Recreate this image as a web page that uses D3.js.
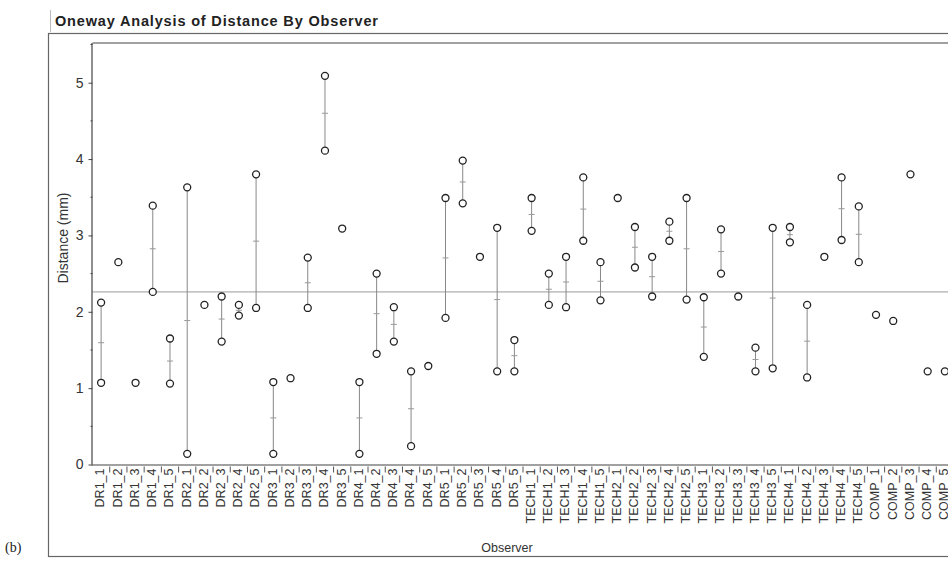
<!DOCTYPE html>
<html>
<head>
<meta charset="utf-8">
<script src="https://cdn.jsdelivr.net/npm/d3@7"></script>
<style>
  html, body { margin: 0; padding: 0; background: #fff; }
  svg { display: block; }
</style>
</head>
<body>
<svg id="chart" width="948" height="565"></svg>
<script>
// ---------------- data ----------------
const observers = [
  "DR1_1","DR1_2","DR1_3","DR1_4","DR1_5",
  "DR2_1","DR2_2","DR2_3","DR2_4","DR2_5",
  "DR3_1","DR3_2","DR3_3","DR3_4","DR3_5",
  "DR4_1","DR4_2","DR4_3","DR4_4","DR4_5",
  "DR5_1","DR5_2","DR5_3","DR5_4","DR5_5",
  "TECH1_1","TECH1_2","TECH1_3","TECH1_4","TECH1_5",
  "TECH2_1","TECH2_2","TECH2_3","TECH2_4","TECH2_5",
  "TECH3_1","TECH3_2","TECH3_3","TECH3_4","TECH3_5",
  "TECH4_1","TECH4_2","TECH4_3","TECH4_4","TECH4_5",
  "COMP_1","COMP_2","COMP_3","COMP_4","COMP_5"
];
// first measurement per observer (mm)
const measurement1 = [
  2.12,2.65,1.07,3.39,1.65,
  3.63,2.09,2.20,2.09,3.80,
  1.08,1.13,2.71,5.09,3.09,
  1.08,2.50,2.06,1.22,1.29,
  3.49,3.98,2.72,3.10,1.63,
  3.49,2.50,2.72,3.76,2.65,
  3.49,3.11,2.72,3.18,3.49,
  2.19,3.08,2.20,1.53,3.10,
  3.11,2.09,2.72,3.76,3.38,
  1.96,1.88,3.80,1.22,1.22
];
// second measurement per observer (null = only one value)
const measurement2 = [
  1.07,null,null,2.26,1.06,
  0.14,null,1.61,1.95,2.05,
  0.14,null,2.05,4.11,null,
  0.14,1.45,1.61,0.24,null,
  1.92,3.42,null,1.22,1.22,
  3.06,2.09,2.06,2.93,2.15,
  null,2.58,2.20,2.93,2.16,
  1.41,2.50,null,1.22,1.26,
  2.91,1.14,null,2.94,2.65,
  null,null,null,null,null
];
const grandMean = 2.26;
const yTicks = [0,1,2,3,4,5];
const yMinorTicks = [0.5,1.5,2.5,3.5,4.5,5.5];
const chartTitle = "Oneway Analysis of Distance By Observer";
const yTitle = "Distance (mm)";
const xTitle = "Observer";
const panelLabel = "(b)";

// ---------------- layout ----------------
const svg = d3.select("#chart");
const plot = { left: 92.5, top: 43, bottom: 464.5, right: 953.5 };
const font = "'Liberation Sans', Arial, sans-serif";

const x = d3.scaleBand().domain(observers).range([plot.left, plot.right]).padding(0);
const y = d3.scaleLinear().domain([0, 5.52]).range([plot.bottom, plot.top]);

// panel label
svg.append("text").attr("x", 5).attr("y", 552)
  .attr("font-family", "'Liberation Serif', 'Times New Roman', serif")
  .attr("font-size", 14).attr("fill", "#222").text(panelLabel);

// title and outline marker
svg.append("line").attr("x1", 50.5).attr("x2", 50.5).attr("y1", 10).attr("y2", 32)
  .attr("stroke", "#bbb").attr("stroke-width", 1);
svg.append("text").attr("x", 55).attr("y", 26)
  .attr("font-family", font).attr("font-weight", "bold")
  .attr("font-size", 14.5).attr("fill", "#222")
  .attr("textLength", 323).attr("lengthAdjust", "spacing")
  .text(chartTitle);

// outer report box
svg.append("rect").attr("x", 48.5).attr("y", 33.5).attr("width", 960).attr("height", 523)
  .attr("fill", "none").attr("stroke", "#666").attr("stroke-width", 1.2);

// plot frame top
svg.append("line").attr("x1", plot.left).attr("x2", 960).attr("y1", plot.top).attr("y2", plot.top)
  .attr("stroke", "#444").attr("stroke-width", 1.2);

// grand mean line
svg.append("line").attr("x1", plot.left).attr("x2", 960)
  .attr("y1", y(grandMean)).attr("y2", y(grandMean))
  .attr("stroke", "#999").attr("stroke-width", 1);

// y axis
const yAxis = d3.axisLeft(y).tickValues(yTicks).tickSize(4).tickPadding(5).tickFormat(d3.format("d"));
const gy = svg.append("g").attr("transform", `translate(${plot.left},0)`).call(yAxis);
gy.select(".domain").attr("stroke", "#444").attr("stroke-width", 1.2)
  .attr("d", `M-0.5,${plot.top}V${plot.bottom}`);
gy.selectAll(".tick line").attr("stroke", "#444");
gy.selectAll(".tick text").attr("font-family", font).attr("font-size", 14).attr("fill", "#333");
svg.append("g").selectAll("line").data(yMinorTicks).join("line")
  .attr("x1", plot.left - 2).attr("x2", plot.left)
  .attr("y1", d => y(d)).attr("y2", d => y(d))
  .attr("stroke", "#444");

// x axis
const gx = svg.append("g").attr("transform", `translate(0,${plot.bottom})`);
gx.append("line").attr("x1", plot.left - 1).attr("x2", 960).attr("y1", 0.5).attr("y2", 0.5)
  .attr("stroke", "#444").attr("stroke-width", 1.2);
gx.selectAll("line.bnd").data(observers.slice(1)).join("line").attr("class", "bnd")
  .attr("x1", d => x(d)).attr("x2", d => x(d)).attr("y1", 2).attr("y2", 8)
  .attr("stroke", "#555");
gx.selectAll("text").data(observers).join("text")
  .attr("transform", d => `translate(${x(d) + x.bandwidth() / 2 - 1},4) rotate(-90)`)
  .attr("text-anchor", "end").attr("dy", "0.35em")
  .attr("font-family", font).attr("font-size", 12.5).attr("fill", "#333")
  .text(d => d);

// axis titles
svg.append("text").attr("transform", "translate(68,238) rotate(-90)")
  .attr("text-anchor", "middle").attr("font-family", font).attr("font-size", 14)
  .attr("fill", "#333").text(yTitle);
svg.append("text").attr("x", 507).attr("y", 552).attr("text-anchor", "middle")
  .attr("font-family", font).attr("font-size", 12.5).attr("fill", "#333").text(xTitle);

// data
const rows = observers.map((o, i) => ({
  obs: o,
  vals: [measurement1[i], measurement2[i]].filter(v => v !== null)
}));
const cx = d => x(d.obs) + x.bandwidth() / 2;

const g = svg.append("g");
// connecting range lines
g.selectAll("line.rng").data(rows.filter(r => r.vals.length > 1)).join("line").attr("class", "rng")
  .attr("x1", cx).attr("x2", cx)
  .attr("y1", d => y(d3.max(d.vals))).attr("y2", d => y(d3.min(d.vals)))
  .attr("stroke", "#888").attr("stroke-width", 1);
// mean markers
g.selectAll("line.mean").data(rows.filter(r => r.vals.length > 1)).join("line").attr("class", "mean")
  .attr("x1", d => cx(d) - 3).attr("x2", d => cx(d) + 3)
  .attr("y1", d => y(d3.mean(d.vals))).attr("y2", d => y(d3.mean(d.vals)))
  .attr("stroke", "#999").attr("stroke-width", 1);
// points
const pts = rows.flatMap(r => r.vals.map(v => ({ obs: r.obs, v })));
g.selectAll("circle").data(pts).join("circle")
  .attr("cx", cx).attr("cy", d => y(d.v)).attr("r", 3.5)
  .attr("fill", "#fff").attr("stroke", "#222").attr("stroke-width", 1.3);
</script>
</body>
</html>
